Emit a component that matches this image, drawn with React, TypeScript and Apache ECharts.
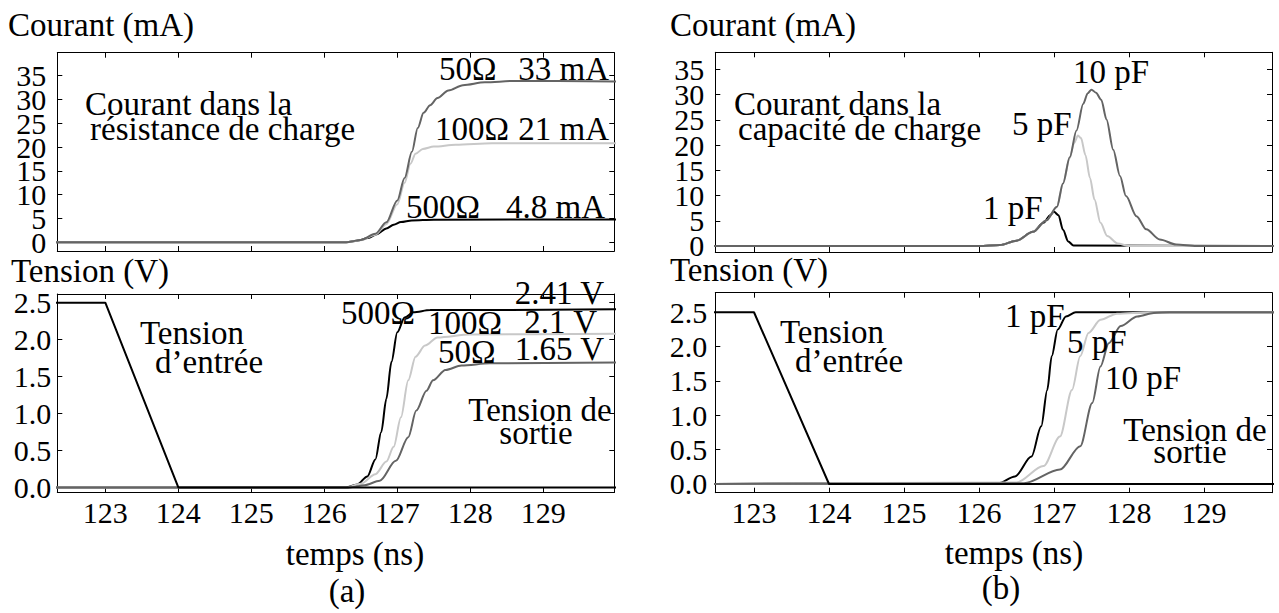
import React, { useEffect, useRef } from "react";
import * as echarts from "echarts";

const FONT = "Liberation Serif";
const PROSE = 33;
const TICK = 30;

// tick values
const timeTicks = [123, 124, 125, 126, 127, 128, 129];
const currentTicks = [0, 5, 10, 15, 20, 25, 30, 35];
const currentLabelsEven = [0, 10, 20, 30];
const currentLabelsOdd = [5, 15, 25, 35];
const voltTicks = [0, 0.5, 1, 1.5, 2, 2.5];

// (a) current in load resistance (mA)
const tR50 = [122.3, 126.3, 126.5, 126.7, 126.85, 127.0, 127.1, 127.2, 127.28, 127.36, 127.45, 127.55, 127.7, 127.9, 128.2, 128.6, 130];
const iR50 = [0, 0, 0.5, 1.8, 4.2, 8.8, 13.5, 19, 24, 27.2, 28.8, 30.3, 31.9, 33.0, 33.6, 33.9, 33.8];
const tR100 = [122.3, 126.3, 126.5, 126.7, 126.85, 127.0, 127.1, 127.18, 127.25, 127.35, 127.5, 127.8, 128.3, 130];
const iR100 = [0, 0, 0.45, 1.6, 3.8, 8.0, 12.5, 16.5, 18.6, 19.6, 20.1, 20.5, 20.8, 20.8];
const tR500 = [122.3, 126.3, 126.45, 126.6, 126.72, 126.85, 126.95, 127.05, 127.2, 127.5, 130];
const iR500 = [0, 0, 0.3, 0.9, 1.7, 2.9, 3.7, 4.25, 4.6, 4.75, 4.8];

// input voltage (V)
const tIn = [122.3, 123, 124, 130];
const vIn = [2.5, 2.5, 0, 0];

// (a) output voltage (V)
const tV500 = [122.3, 126.3, 126.45, 126.59, 126.7, 126.78, 126.85, 126.92, 127.0, 127.1, 127.22, 127.45, 130];
const vV500 = [0, 0, 0.04, 0.15, 0.38, 0.75, 1.2, 1.7, 2.1, 2.3, 2.37, 2.4, 2.41];
const tV100 = [122.3, 126.3, 126.5, 126.7, 126.85, 126.95, 127.05, 127.15, 127.25, 127.38, 127.55, 128.0, 130];
const vV100 = [0, 0, 0.05, 0.18, 0.35, 0.55, 0.95, 1.45, 1.77, 1.92, 2.03, 2.07, 2.08];
const tV50 = [122.3, 126.35, 126.55, 126.76, 126.98, 127.15, 127.26, 127.4, 127.49, 127.66, 127.88, 128.27, 130];
const vV50 = [0, 0, 0.03, 0.09, 0.36, 0.68, 1.04, 1.31, 1.45, 1.59, 1.65, 1.68, 1.69];

// (b) current in load capacitance (mA)
const tC10 = [122.3, 126.0, 126.28, 126.5, 126.72, 126.9, 127.04, 127.12, 127.21, 127.3, 127.39, 127.45, 127.5, 127.56, 127.63, 127.7, 127.79, 127.88, 127.96, 128.1, 128.23, 128.41, 128.63, 128.9, 130];
const iC10 = [0, 0, 0.2, 1.05, 2.8, 5.1, 7.8, 12.4, 17.6, 22.9, 28.2, 30.3, 31.0, 30.4, 29.0, 25.1, 19.1, 13.9, 9.9, 5.9, 3.3, 1.3, 0.3, 0, 0];
const tC5 = [122.3, 126.0, 126.28, 126.5, 126.72, 126.9, 127.04, 127.12, 127.21, 127.27, 127.32, 127.36, 127.42, 127.48, 127.54, 127.62, 127.71, 127.85, 128.0, 130];
const iC5 = [0, 0, 0.2, 1.05, 2.8, 5.1, 7.8, 12.4, 17.4, 20.5, 21.9, 21.4, 18.0, 13.5, 9.2, 4.6, 2.0, 0.5, 0, 0];
const tC1 = [122.3, 126.0, 126.28, 126.5, 126.72, 126.86, 126.95, 127.0, 127.06, 127.12, 127.19, 127.26, 130];
const iC1 = [0, 0, 0.2, 1.05, 2.8, 4.6, 6.1, 6.8, 6.1, 3.2, 0.9, 0.1, 0];

// (b) output voltage (V)
const tVC1 = [122.3, 126.26, 126.48, 126.7, 126.83, 126.91, 126.97, 127.05, 127.16, 127.29, 130];
const vVC1 = [0, 0.01, 0.11, 0.4, 0.84, 1.37, 1.86, 2.25, 2.44, 2.5, 2.5];
const tVC5 = [122.3, 126.5, 126.86, 127.08, 127.24, 127.35, 127.46, 127.62, 127.84, 128.27, 130];
const vVC5 = [0, 0.02, 0.26, 0.69, 1.37, 1.86, 2.2, 2.39, 2.48, 2.5, 2.5];
const tVC10 = [122.3, 126.6, 127.08, 127.35, 127.51, 127.62, 127.73, 127.89, 128.11, 128.33, 128.54, 130];
const vVC10 = [0, 0.01, 0.21, 0.55, 1.18, 1.71, 2.05, 2.3, 2.44, 2.49, 2.5, 2.5];

const BLACK = "#000000";
const LIGHT = "#c8c8c8";
const DARK = "#646464";

const zip = (t: number[], v: number[]) => t.map((x, i) => [x, v[i]]);

function buildOption() {
  const grids = [
    { left: 57.3, top: 52.7, width: 557, height: 198.3 },
    { left: 57.3, top: 294, width: 557, height: 198.5 },
    { left: 715.3, top: 52.3, width: 556.7, height: 199.7 },
    { left: 715.3, top: 292.7, width: 556.7, height: 200 },
  ];
  const xr = [
    [122.342, 129.973],
    [122.342, 129.973],
    [122.484, 129.907],
    [122.484, 129.907],
  ];
  const yr = [
    [-1.83, 39.83],
    [-0.068, 2.618],
    [-1.19, 38.4],
    [-0.127, 2.785],
  ];
  const isVolt = [false, true, false, true];
  const showX = [false, true, false, true];
  const yMargin = [11, 6, 11, 8];

  const line = { show: true, onZero: false, lineStyle: { color: "#000", width: 1 } };
  const tick = (vals: number[]) => ({
    show: true,
    inside: true,
    length: 5,
    customValues: vals,
    lineStyle: { color: "#000", width: 1 },
  });
  const yLabel = (gi: number, vals: number[]) => ({
    show: true,
    customValues: vals,
    formatter: (v: number) => (isVolt[gi] ? v.toFixed(1) : String(Math.round(v))),
    fontFamily: FONT,
    fontSize: TICK,
    lineHeight: 20,
    color: "#000",
    margin: yMargin[gi],
    hideOverlap: false,
    showMinLabel: true,
    showMaxLabel: true,
  });

  const xAxis: any[] = [];
  const yAxis: any[] = [];
  grids.forEach((_, gi) => {
    xAxis.push({
      gridIndex: gi,
      type: "value",
      position: "bottom",
      min: xr[gi][0],
      max: xr[gi][1],
      axisLine: line,
      axisTick: tick(timeTicks),
      axisLabel: {
        show: showX[gi],
        customValues: timeTicks,
        formatter: (v: number) => String(Math.round(v)),
        fontFamily: FONT,
        fontSize: TICK,
        color: "#000",
        margin: 5,
        showMinLabel: true,
        showMaxLabel: true,
      },
      splitLine: { show: false },
    });
    xAxis.push({
      gridIndex: gi,
      type: "value",
      position: "top",
      min: xr[gi][0],
      max: xr[gi][1],
      axisLine: line,
      axisTick: tick(timeTicks),
      axisLabel: { show: false },
      splitLine: { show: false },
    });
    const yt = isVolt[gi] ? voltTicks : currentTicks;
    yAxis.push({
      gridIndex: gi,
      type: "value",
      position: "left",
      min: yr[gi][0],
      max: yr[gi][1],
      axisLine: line,
      axisTick: tick(yt),
      axisLabel: yLabel(gi, isVolt[gi] ? voltTicks : currentLabelsEven),
      splitLine: { show: false },
    });
    yAxis.push({
      gridIndex: gi,
      type: "value",
      position: "right",
      min: yr[gi][0],
      max: yr[gi][1],
      axisLine: line,
      axisTick: tick(yt),
      axisLabel: { show: false },
      splitLine: { show: false },
    });
  });
  // second label layer for the current panels (odd tick labels)
  [0, 2].forEach((gi) => {
    yAxis.push({
      gridIndex: gi,
      type: "value",
      position: "left",
      min: yr[gi][0],
      max: yr[gi][1],
      axisLine: { show: false, onZero: false },
      axisTick: { show: false },
      axisLabel: yLabel(gi, currentLabelsOdd),
      splitLine: { show: false },
    });
  });

  const s = (gi: number, t: number[], v: number[], color: string, z: number) => ({
    type: "line",
    xAxisIndex: gi * 2,
    yAxisIndex: gi * 2,
    data: zip(t, v),
    showSymbol: false,
    symbol: "none",
    smooth: 0.3,
    smoothMonotone: "x",
    clip: true,
    z,
    lineStyle: { color, width: 2 },
    silent: true,
  });

  const series = [
    s(0, tR500, iR500, BLACK, 2),
    s(0, tR100, iR100, LIGHT, 3),
    s(0, tR50, iR50, DARK, 4),
    s(1, tV500, vV500, BLACK, 2),
    s(1, tV100, vV100, LIGHT, 3),
    s(1, tV50, vV50, DARK, 4),
    { ...s(1, tIn, vIn, BLACK, 5), smooth: false },
    s(2, tC1, iC1, BLACK, 2),
    s(2, tC5, iC5, LIGHT, 3),
    s(2, tC10, iC10, DARK, 4),
    s(3, tVC1, vVC1, BLACK, 2),
    s(3, tVC5, vVC5, LIGHT, 3),
    s(3, tVC10, vVC10, DARK, 4),
    { ...s(3, tIn, vIn, BLACK, 5), smooth: false },
  ];

  const txt = (text: string, x: number, y: number, align = "left", size = PROSE) => ({
    type: "text",
    x,
    y,
    z: 100,
    style: {
      text,
      fontFamily: FONT,
      fontSize: size,
      lineHeight: 22,
      fill: "#000",
      align,
      verticalAlign: "middle",
    },
  });

  const graphic = [
    // (a)
    txt("Courant (mA)", 8, 25),
    txt("Courant dans la", 85, 104),
    txt("résistance de charge", 90, 129),
    txt("50Ω", 439, 69),
    txt("33 mA", 609, 69, "right"),
    txt("100Ω", 435, 129),
    txt("21 mA", 609, 129, "right"),
    txt("500Ω", 406, 207),
    txt("4.8 mA", 605, 207, "right"),
    txt("Tension (V)", 11, 271),
    txt("Tension", 140, 333),
    txt("d’entrée", 155, 362),
    txt("500Ω", 341, 313),
    txt("2.41 V", 604, 293, "right"),
    txt("100Ω", 428, 323),
    txt("2.1 V", 597, 322, "right"),
    txt("50Ω", 438, 352),
    txt("1.65 V", 604, 349, "right"),
    txt("Tension de", 540, 410, "center"),
    txt("sortie", 536, 433, "center"),
    txt("temps (ns)", 355, 554, "center"),
    txt("(a)", 347, 591, "center"),
    // (b)
    txt("Courant (mA)", 670, 25),
    txt("Courant dans la", 734, 104),
    txt("capacité de charge", 738, 129),
    txt("10 pF", 1073, 72),
    txt("5 pF", 1012, 124),
    txt("1 pF", 983, 208),
    txt("Tension (V)", 670, 270),
    txt("Tension", 780, 332),
    txt("d’entrée", 795, 361),
    txt("1 pF", 1005, 316),
    txt("5 pF", 1067, 342),
    txt("10 pF", 1105, 378),
    txt("Tension de", 1195, 430, "center"),
    txt("sortie", 1190, 452, "center"),
    txt("temps (ns)", 1014, 553, "center"),
    txt("(b)", 1001, 588, "center"),
  ];

  return {
    animation: false,
    grid: grids,
    xAxis,
    yAxis,
    series,
    graphic,
  };
}

export default function App() {
  const ref = useRef<HTMLDivElement>(null);
  useEffect(() => {
    if (!ref.current) return;
    const chart = echarts.init(ref.current, undefined, { renderer: "svg" });
    chart.setOption(buildOption() as any);
    return () => chart.dispose();
  }, []);
  return (
    <div>
      <div ref={ref} style={{ position: "absolute", left: 0, top: 0, width: 1279, height: 613 }} />
    </div>
  );
}
